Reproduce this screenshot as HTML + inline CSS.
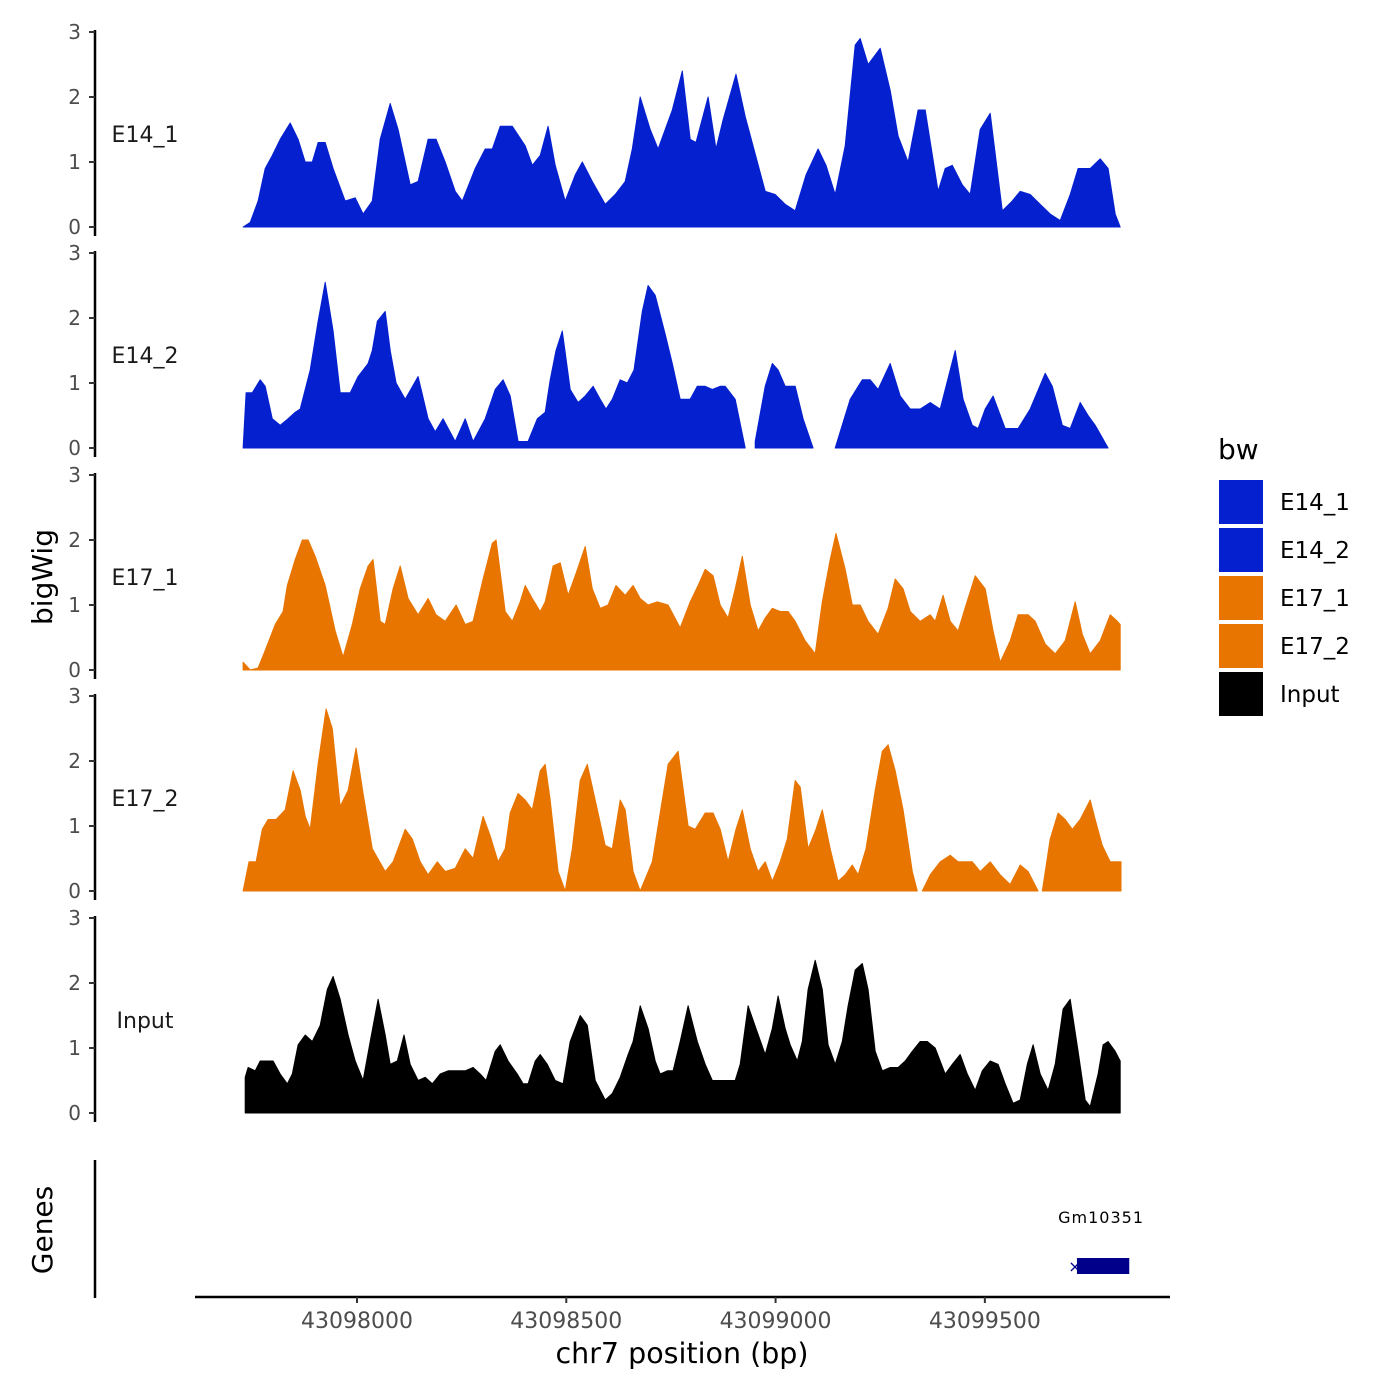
<!DOCTYPE html>
<html><head><meta charset="utf-8"><style>
body{margin:0;background:#fff}
svg{display:block;font-family:"DejaVu Sans","Liberation Sans",sans-serif}
</style></head><body>
<svg id="chart" width="1400" height="1400" viewBox="0 0 1400 1400"></svg>
<script>
const trackNames = ["E14_1","E14_2","E17_1","E17_2","Input"];
const trackColors = ["#0520CF","#0520CF","#E87500","#E87500","#000000"];
const yTicks = [0,1,2,3];
const xTickValues = [43098000,43098500,43099000,43099500];
const xTickLabels = ["43098000","43098500","43099000","43099500"];
const regionStart = 43097728;
const offsetUnit = 0.9954; // bp per offset unit
const t1Pos = [0,17,36,53,70,89,113,132,149,166,180,197,216,245,269,288,310,329,353,372,401,420,444,463,485,509,526,557,581,598,617,646,677,694,713,732,749,773,797,814,838,869,893,917,934,953,977,996,1030,1054,1073,1087,1116,1135,1152,1183,1205,1253,1277,1301,1325,1351,1380,1399,1421,1445,1469,1481,1500,1529,1553,1572,1596,1620,1637,1668,1685,1702,1726,1745,1769,1793,1822,1846,1865,1889,1913,1937,1961,1985,2004,2033,2057,2076,2093,2105];
const t1Val = [0,0.07,0.4,0.9,1.1,1.35,1.6,1.35,1.0,1.0,1.3,1.3,0.9,0.4,0.45,0.2,0.4,1.35,1.9,1.5,0.65,0.7,1.35,1.35,1.0,0.55,0.4,0.9,1.2,1.2,1.55,1.55,1.25,0.95,1.1,1.55,0.95,0.4,0.8,1.0,0.7,0.35,0.5,0.7,1.2,2.0,1.5,1.2,1.8,2.4,1.35,1.3,2.0,1.2,1.65,2.35,1.7,0.55,0.5,0.35,0.25,0.8,1.2,0.95,0.5,1.25,2.8,2.9,2.5,2.75,2.1,1.4,1.0,1.8,1.8,0.55,0.9,0.95,0.65,0.5,1.5,1.75,0.25,0.4,0.55,0.5,0.35,0.2,0.1,0.5,0.9,0.9,1.05,0.9,0.2,0];
const t2Pos = [0,7,22,41,53,70,89,108,125,137,161,180,197,216,233,245,257,276,300,310,322,341,353,367,389,420,444,461,480,509,533,552,581,605,624,641,660,684,706,725,737,751,766,785,804,821,840,857,871,886,905,922,938,958,972,989,1013,1030,1049,1073,1090,1109,1126,1145,1157,1181,1205,1217,1229,1253,1270,1284,1301,1325,1344,1368,1394,1421,1457,1486,1505,1524,1553,1577,1601,1625,1649,1673,1709,1728,1750,1764,1781,1800,1829,1860,1889,1925,1942,1966,1985,2009,2028,2045,2076];
const t2Val = [0,0.85,0.85,1.05,0.95,0.45,0.35,0.45,0.55,0.6,1.2,1.95,2.55,1.8,0.85,0.85,0.85,1.1,1.3,1.5,1.95,2.1,1.5,1.0,0.75,1.1,0.45,0.25,0.45,0.1,0.45,0.1,0.45,0.9,1.05,0.8,0.1,0.1,0.45,0.55,1.05,1.5,1.8,0.9,0.7,0.8,0.95,0.75,0.6,0.75,1.05,1.0,1.2,2.1,2.5,2.35,1.75,1.3,0.75,0.75,0.95,0.95,0.9,0.95,0.95,0.75,0,null,0.1,0.95,1.3,1.2,0.95,0.95,0.45,0,null,0,0.75,1.05,1.05,0.9,1.3,0.8,0.6,0.6,0.7,0.6,1.5,0.75,0.35,0.3,0.6,0.8,0.3,0.3,0.6,1.15,0.95,0.35,0.3,0.7,0.5,0.35,0];
const t3Pos = [0,17,36,53,77,96,106,125,142,156,173,197,221,240,262,281,300,312,329,341,360,377,396,420,444,463,485,511,533,552,576,598,607,629,646,665,677,694,713,725,744,761,780,797,821,838,857,876,895,917,936,953,972,994,1020,1049,1073,1092,1109,1128,1145,1164,1181,1198,1217,1236,1253,1270,1289,1308,1325,1349,1373,1390,1409,1423,1445,1462,1481,1500,1524,1548,1565,1584,1601,1625,1649,1661,1680,1697,1716,1735,1757,1781,1800,1817,1841,1860,1884,1901,1925,1949,1973,1997,2014,2033,2057,2081,2098,2105];
const t3Val = [0.12,0,0.03,0.3,0.7,0.9,1.3,1.7,2.0,2.0,1.75,1.3,0.6,0.2,0.7,1.25,1.6,1.7,0.75,0.7,1.25,1.6,1.1,0.85,1.1,0.85,0.75,1.0,0.7,0.75,1.4,1.95,2.0,0.9,0.75,1.05,1.3,1.1,0.9,1.05,1.6,1.65,1.15,1.45,1.9,1.25,0.95,1.0,1.3,1.15,1.3,1.1,1.0,1.05,1.0,0.65,1.05,1.3,1.55,1.45,1.0,0.8,1.25,1.75,1.0,0.6,0.8,0.95,0.9,0.9,0.75,0.45,0.25,1.05,1.7,2.1,1.55,1.0,1.0,0.75,0.55,0.95,1.4,1.25,0.9,0.75,0.85,0.75,1.15,0.75,0.6,1.0,1.45,1.25,0.6,0.12,0.45,0.85,0.85,0.75,0.4,0.25,0.45,1.05,0.55,0.25,0.45,0.85,0.75,0.7];
const t4Pos = [0,14,31,46,60,79,101,120,137,149,161,180,199,214,233,252,271,288,310,341,360,389,406,425,444,466,485,509,533,552,576,593,612,629,641,660,677,694,713,725,737,756,773,790,809,826,845,869,886,905,917,936,953,982,1001,1020,1044,1068,1085,1109,1128,1145,1164,1183,1198,1217,1236,1253,1270,1289,1306,1325,1337,1356,1375,1390,1409,1428,1445,1462,1476,1495,1517,1534,1548,1565,1584,1606,1618,1625,1630,1649,1673,1697,1716,1750,1769,1793,1817,1841,1865,1884,1908,1913,1918,1937,1956,1973,1990,2009,2033,2045,2062,2081,2100,2107];
const t4Val = [0,0.45,0.45,0.95,1.1,1.1,1.25,1.85,1.55,1.15,0.95,1.95,2.8,2.5,1.3,1.55,2.2,1.5,0.65,0.3,0.45,0.95,0.8,0.45,0.25,0.45,0.3,0.35,0.65,0.5,1.15,0.85,0.45,0.65,1.2,1.5,1.4,1.25,1.85,1.95,1.4,0.3,0,0.65,1.7,1.95,1.4,0.7,0.65,1.4,1.25,0.3,0,0.45,1.2,1.95,2.15,1.0,0.95,1.2,1.2,0.95,0.45,0.95,1.25,0.65,0.3,0.45,0.15,0.45,0.8,1.7,1.6,0.65,0.95,1.25,0.65,0.15,0.25,0.4,0.25,0.65,1.55,2.15,2.25,1.85,1.25,0.3,0,null,0,0.25,0.45,0.55,0.45,0.45,0.3,0.45,0.25,0.1,0.4,0.3,0,null,0,0.8,1.2,1.1,0.95,1.1,1.4,1.1,0.7,0.45,0.45,0.45];
const t5Pos = [5,12,29,41,48,72,89,106,118,132,149,166,185,202,216,233,252,269,288,305,324,341,353,370,386,401,420,437,454,473,492,511,533,552,569,583,605,617,636,658,672,684,701,713,730,749,768,785,809,826,845,869,886,905,924,936,953,972,989,1001,1018,1032,1049,1068,1090,1109,1126,1145,1164,1181,1193,1212,1231,1253,1270,1284,1301,1313,1330,1342,1356,1373,1390,1404,1421,1438,1452,1469,1486,1500,1517,1534,1553,1572,1589,1606,1625,1642,1661,1685,1702,1721,1738,1757,1774,1793,1812,1829,1848,1865,1882,1896,1913,1932,1949,1968,1985,2004,2021,2033,2052,2064,2076,2093,2105];
const t5Val = [0.55,0.7,0.65,0.8,0.8,0.8,0.6,0.45,0.6,1.05,1.2,1.1,1.35,1.9,2.1,1.75,1.2,0.8,0.5,1.1,1.75,1.2,0.75,0.8,1.2,0.75,0.5,0.55,0.45,0.6,0.65,0.65,0.65,0.7,0.6,0.5,0.95,1.05,0.8,0.6,0.45,0.45,0.8,0.9,0.75,0.5,0.45,1.1,1.5,1.35,0.5,0.2,0.3,0.55,0.9,1.1,1.65,1.3,0.8,0.6,0.65,0.65,1.1,1.65,1.1,0.75,0.5,0.5,0.5,0.5,0.75,1.65,1.3,0.9,1.3,1.8,1.3,1.05,0.8,1.1,1.9,2.35,1.9,1.05,0.75,1.1,1.65,2.2,2.3,1.9,0.95,0.65,0.7,0.7,0.8,0.95,1.1,1.1,1.0,0.6,0.75,0.9,0.6,0.35,0.65,0.8,0.75,0.45,0.15,0.2,0.75,1.05,0.6,0.35,0.75,1.6,1.75,0.95,0.2,0.1,0.6,1.05,1.1,0.95,0.8];
const geneName = "Gm10351";
const geneStart = 43099720, geneEnd = 43099845;

const trackPos = [t1Pos,t2Pos,t3Pos,t4Pos,t5Pos];
const trackVal = [t1Val,t2Val,t3Val,t4Val,t5Val];
const NS = "http://www.w3.org/2000/svg";
const svg = document.getElementById("chart");
function el(tag, attrs, parent){const e=document.createElementNS(NS,tag);for(const k in attrs)e.setAttribute(k,attrs[k]);(parent||svg).appendChild(e);return e;}
const xScale = bp => 357 + (bp - 43098000) * 0.41857;
const baseY = [227,448,670,891,1113];
const unitPx = 65;
const yScale = (t, v) => baseY[t] - v * unitPx;

for (let t=0;t<5;t++){
  const g = el("g",{});
  
  
  const ax = el("line",{x1:95,x2:95,y1:baseY[t]-197,y2:baseY[t]+9,stroke:"#000","stroke-width":2.5},g);
  
  
  yTicks.forEach(v=>{
    const y=yScale(t,v);
    const tk = el("line",{x1:89,x2:95,y1:y,y2:y,stroke:"#333","stroke-width":2},g);
    
    
    const tl = el("text",{x:81,y:y+7,"text-anchor":"end","font-size":20,fill:"#4d4d4d"},g);
    tl.textContent = String(v);
    
    
  });
  const lab = el("text",{x:145,y:baseY[t]-85,"text-anchor":"middle","font-size":22,fill:"#1a1a1a"},g);
  lab.textContent = trackNames[t];
  
  
  const pos = trackPos[t], val = trackVal[t];
  const n = Math.min(pos.length, val.length);
  let seg = [];
  const flush = () => {
    if (seg.length > 1) {
      let d = "M" + seg[0][0].toFixed(1) + "," + baseY[t];
      seg.forEach(p => d += "L" + p[0].toFixed(1) + "," + p[1].toFixed(1));
      d += "L" + seg[seg.length-1][0].toFixed(1) + "," + baseY[t] + "Z";
      const a = el("path",{d:d,fill:trackColors[t],stroke:trackColors[t],"stroke-width":1,"stroke-linejoin":"round"},g);
      
      
    }
    seg = [];
  };
  for (let i=0;i<n;i++){
    if (val[i] === null) { flush(); continue; }
    seg.push([xScale(regionStart + pos[i]*offsetUnit), yScale(t, val[i])]);
  }
  flush();
}

const yt = el("text",{x:0,y:0,transform:"translate(52,577) rotate(-90)","text-anchor":"middle","font-size":28,fill:"#000"});
yt.textContent = "bigWig";



const gy = el("line",{x1:95,x2:95,y1:1160,y2:1298,stroke:"#000","stroke-width":2.5});


const gt = el("text",{x:0,y:0,transform:"translate(52,1230) rotate(-90)","text-anchor":"middle","font-size":28,fill:"#000"});
gt.textContent = "Genes";


const gx1 = xScale(geneStart), gx2 = xScale(geneEnd);
const gr = el("rect",{x:gx1,y:1258,width:gx2-gx1,height:16,fill:"#00008B"});


const gm = el("text",{x:gx1-2,y:1272,"text-anchor":"middle","font-size":16,fill:"#00008B"});
gm.textContent = "×";


const gl = el("text",{x:(gx1+gx2)/2-2,y:1223,"text-anchor":"middle","font-size":16,"letter-spacing":"1",fill:"#000"});
gl.textContent = geneName;



const xa = el("line",{x1:195,x2:1170,y1:1297,y2:1297,stroke:"#000","stroke-width":2.5});


xTickValues.forEach((v,i)=>{
  const x = xScale(v);
  const tk = el("line",{x1:x,x2:x,y1:1297,y2:1303,stroke:"#333","stroke-width":2});
  
  
  const tl = el("text",{x:x,y:1328,"text-anchor":"middle","font-size":22,fill:"#4d4d4d"});
  tl.textContent = xTickLabels[i];
  
  
});
const xt = el("text",{x:682,y:1363,"text-anchor":"middle","font-size":28.5,fill:"#000"});
xt.textContent = "chr7 position (bp)";



const lg = el("g",{});


const lt = el("text",{x:1218,y:459,"font-size":28,fill:"#000"},lg);
lt.textContent = "bw";


trackNames.forEach((nm,i)=>{
  const y = 480 + i*48;
  const r = el("rect",{x:1219,y:y,width:44,height:44,fill:trackColors[i]},lg);
  
  
  const t = el("text",{x:1280,y:y+30,"font-size":23,fill:"#000"},lg);
  t.textContent = nm;
  
  
});
</script>
</body></html>
